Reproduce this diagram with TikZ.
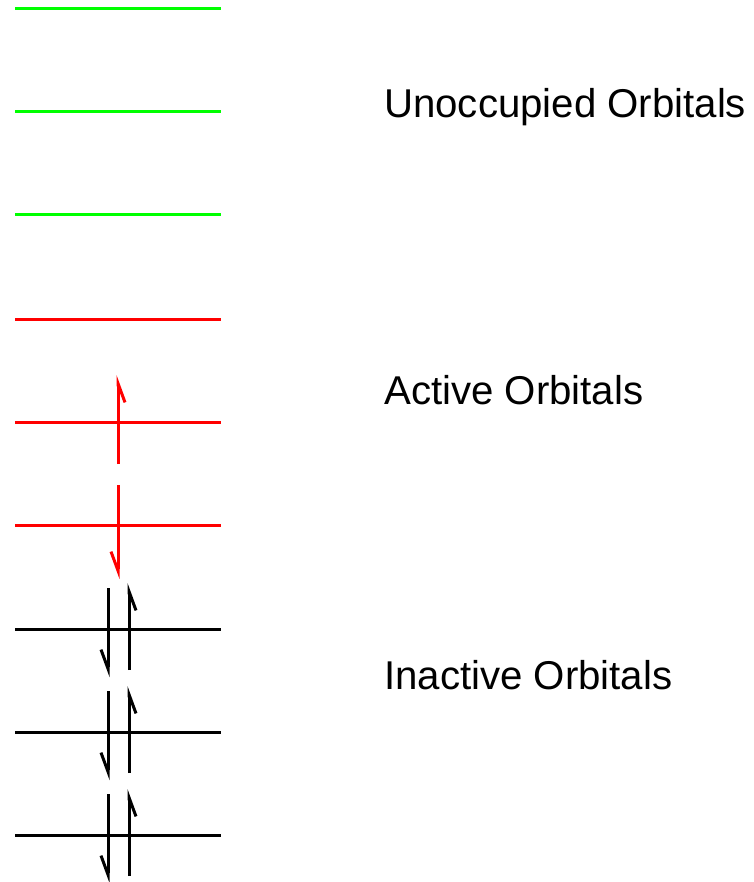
\documentclass[tikz,border=0pt]{standalone}
\usepackage{fontspec}
\setmainfont{Liberation Sans}
\usetikzlibrary{arrows.meta}
\begin{document}
\begin{tikzpicture}[x=1pt,y=-1pt,
  level/.style={line width=3pt},
  spin/.style={line width=3pt, -{Straight Barb[right,length=19pt,width=14pt]}},
  lbl/.style={anchor=base west, inner sep=0pt, font=\fontsize{40.2}{48}\selectfont}]
\useasboundingbox (0,0) rectangle (753,882);
% orbital levels
\foreach \i/\y/\c in {1/9/green,2/112/green,3/215/green,4/319/red,5/422/red,6/525/red,7/629/black,8/732/black,9/835/black}{
  \coordinate (L\i w) at (15,\y);
  \coordinate (L\i e) at (221,\y);
  \draw[level,\c] (L\i w) -- (L\i e);
}
% active electrons
\coordinate (a1s) at (118,464);
\coordinate (a1t) at (118,375);
\draw[spin,red] (a1s) -- (a1t);
\coordinate (a2s) at (118,485);
\coordinate (a2t) at (118,579);
\draw[spin,red] (a2s) -- (a2t);
% inactive electron pairs
\foreach \k/\y in {1/629,2/732,3/835}{
  \coordinate (d\k s) at (108,\y-41);
  \coordinate (d\k t) at (108,\y+48);
  \coordinate (u\k s) at (129,\y+41);
  \coordinate (u\k t) at (129,\y-46);
  \draw[spin,black] (d\k s) -- (d\k t);
  \draw[spin,black] (u\k s) -- (u\k t);
}
% labels
\node[lbl] (unocc) at (384,118) {Unoccupied Orbitals};
\node[lbl] (active) at (384,404) {Active Orbitals};
\node[lbl] (inactive) at (384,689) {Inactive Orbitals};
\end{tikzpicture}
\end{document}
